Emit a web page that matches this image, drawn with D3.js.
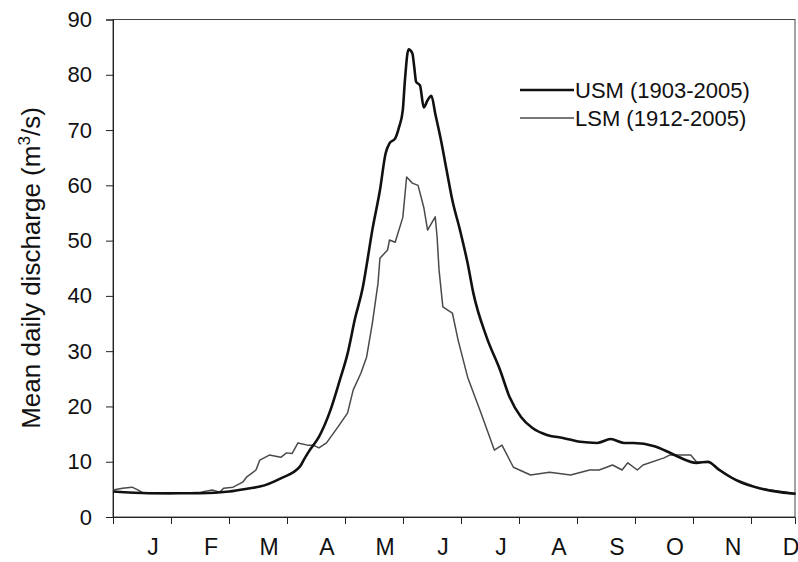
<!DOCTYPE html>
<html>
<head>
<meta charset="utf-8">
<script src="https://cdn.jsdelivr.net/npm/d3@7"></script>
<style>
	body { margin: 0; background: #fff; }
	svg { font-family: "Liberation Sans", Arial, sans-serif; }
</style>
</head>
<body>
<svg width="798" height="562"></svg>
<script>
// day of year vs mean daily discharge
var usmDays = [0, 19, 46, 61, 72, 77, 88, 98, 100, 103, 108, 114, 119, 123, 127, 131, 133, 136, 140, 143, 145, 148, 150, 152, 153, 155, 157, 158, 159, 161, 163, 165, 167, 169, 172, 175, 178, 182, 186, 189, 196, 203, 208, 214, 220, 228, 236, 245, 254, 261, 268, 273, 284, 291, 297, 306, 312, 318, 329, 339, 350, 358]
var usmFlow = [4.6, 4.3, 4.3, 4.6, 5.2, 5.5, 7.0, 9.1, 10.3, 12.0, 14.5, 19.3, 24.8, 29.5, 36.0, 41.5, 45.5, 51.9, 59.1, 65.8, 67.6, 68.5, 70.5, 73.6, 78.5, 84.6, 83.9, 81.4, 78.7, 78.1, 74.1, 75.4, 76.2, 73.0, 68.2, 62.7, 57.3, 51.9, 45.9, 40.5, 32.5, 26.6, 21.7, 18.1, 16.1, 14.8, 14.3, 13.6, 13.4, 14.1, 13.4, 13.4, 12.8, 11.8, 10.8, 9.8, 10.0, 8.5, 6.3, 5.2, 4.5, 4.2]

var lsmDays = [0, 5, 10, 13, 16, 30, 46, 52, 56, 58, 63, 68, 70, 75, 77, 82, 88, 91, 94, 97, 102, 105, 108, 112, 118, 123, 126, 130, 133, 136, 139, 140, 144, 145, 148, 152, 154, 157, 160, 163, 165, 168, 169, 170, 171, 173, 178, 181, 186, 193, 200, 204, 210, 219, 229, 240, 250, 255, 262, 267, 270, 275, 278, 289, 292, 303, 306, 313, 325, 339, 358]
var lsmFlow = [4.9, 5.2, 5.4, 4.9, 4.3, 4.2, 4.5, 4.9, 4.5, 5.2, 5.4, 6.3, 7.2, 8.5, 10.3, 11.2, 10.8, 11.6, 11.5, 13.4, 13.0, 13.0, 12.5, 13.4, 16.3, 18.8, 23.0, 26.0, 28.9, 35.0, 42.3, 46.8, 48.3, 50.1, 49.7, 54.2, 61.5, 60.4, 60.0, 56.0, 51.9, 53.7, 54.3, 50.6, 44.7, 38.0, 36.9, 32.0, 25.3, 18.8, 12.1, 13.0, 9.0, 7.6, 8.1, 7.6, 8.5, 8.5, 9.4, 8.5, 9.8, 8.5, 9.4, 10.7, 11.2, 11.2, 10.0, 9.8, 7.0, 5.2, 4.2]

var monthLabels = ['J', 'F', 'M', 'A', 'M', 'J', 'J', 'A', 'S', 'O', 'N', 'D']
var yTicks = [0, 10, 20, 30, 40, 50, 60, 70, 80, 90]
var seriesNames = ['USM (1903-2005)', 'LSM (1912-2005)']

var monthLen = 30.42

var svg = d3.select("svg")
var plotLeft = 113, plotRight = 795, plotTop = 19.5, plotBottom = 517

var x = d3.scaleLinear().domain([0, 357.7]).range([plotLeft, plotRight])
var y = d3.scaleLinear().domain([0, 90]).range([plotBottom, plotTop])

// frame
svg.append("rect")
	.attr("x", plotLeft).attr("y", plotTop)
	.attr("width", plotRight - plotLeft).attr("height", plotBottom - plotTop)
	.attr("fill", "none")
	.attr("stroke", "#444")
	.attr("stroke-width", 1)

// y axis
var yAxis = svg.append("g")
	.attr("transform", "translate(" + plotLeft + ",0)")
	.call(d3.axisLeft(y).tickValues(yTicks).tickSize(7).tickPadding(14))
yAxis.select(".domain").attr("stroke", "#222")
yAxis.selectAll("line").attr("stroke", "#222")
yAxis.selectAll("text")
	.attr("font-size", "22px")
	.attr("fill", "#111")
	.attr("font-family", "Liberation Sans, Arial, sans-serif")

// x axis: ticks at month boundaries, labels set to the right
var monthTicks = d3.range(0, 12).map(function(k) { return k * monthLen })
var xAxis = svg.append("g")
	.attr("transform", "translate(0," + plotBottom + ")")
	.call(d3.axisBottom(x).tickValues(monthTicks).tickSize(7).tickFormat(""))
xAxis.select(".domain").attr("stroke", "#222")
xAxis.selectAll("line").attr("stroke", "#222")

svg.append("g")
	.selectAll("text")
	.data(monthLabels)
	.enter().append("text")
		.attr("x", function(d, i) { return x((i + 0.69) * monthLen) })
		.attr("y", 555)
		.attr("text-anchor", "middle")
		.attr("font-size", "23px")
		.attr("fill", "#111")
		.text(function(d) { return d })

// y title
var title = svg.append("text")
	.attr("transform", "translate(40,268) rotate(-90)")
	.attr("text-anchor", "middle")
	.attr("font-size", "26px")
	.attr("fill", "#111")
title.append("tspan").text("Mean daily discharge (m")
title.append("tspan").attr("dy", -10).attr("font-size", "17px").text("3")
title.append("tspan").attr("dy", 10).text("/s)")

// lines
function toPoints(days, flow) {
	return days.map(function(d, i) { return [d, flow[i]] })
}

var line = d3.line()
	.x(function(d) { return x(d[0]) })
	.y(function(d) { return y(d[1]) })

svg.append("path")
	.datum(toPoints(lsmDays, lsmFlow))
	.attr("d", line)
	.attr("fill", "none")
	.attr("stroke", "#4a4a4a")
	.attr("stroke-width", 1.5)
	.attr("stroke-linejoin", "round")

svg.append("path")
	.datum(toPoints(usmDays, usmFlow))
	.attr("d", line.curve(d3.curveMonotoneX))
	.attr("fill", "none")
	.attr("stroke", "#111")
	.attr("stroke-width", 2.6)
	.attr("stroke-linejoin", "round")

// legend
var legendStyles = [{w: 2.6, c: "#111"}, {w: 1.5, c: "#4a4a4a"}]
var legend = svg.append("g")
seriesNames.forEach(function(name, i) {
	var ly = 90 + i * 28
	legend.append("line")
		.attr("x1", 520).attr("x2", 574)
		.attr("y1", ly).attr("y2", ly)
		.attr("stroke", legendStyles[i].c)
		.attr("stroke-width", legendStyles[i].w)
	legend.append("text")
		.attr("x", 575).attr("y", ly + 8)
		.attr("font-size", "22px")
		.attr("fill", "#111")
		.text(name)
})
</script>
</body>
</html>
